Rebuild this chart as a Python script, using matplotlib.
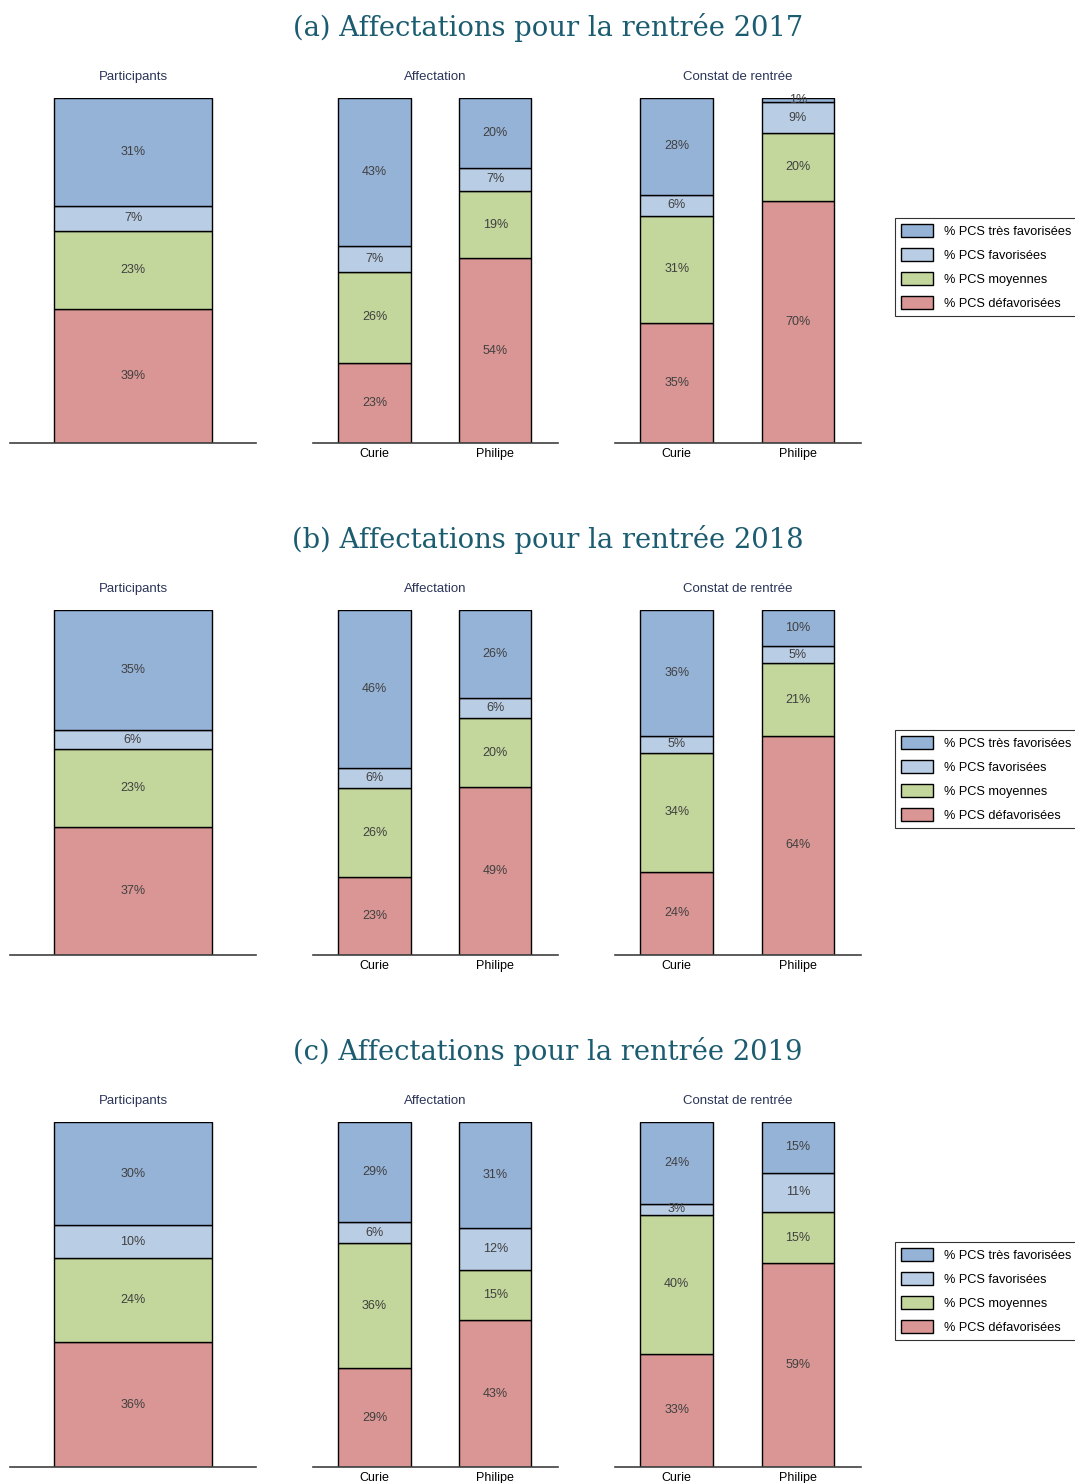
import matplotlib.pyplot as plt
from matplotlib.patches import Patch

plt.rcParams['font.family'] = ['Liberation Sans', 'DejaVu Sans']

# Répartition par catégorie (bas -> haut) : défavorisées, moyennes, favorisées, très favorisées
annees = ['2017', '2018', '2019']
lettres = ['a', 'b', 'c']
categories = ['% PCS très favorisées', '% PCS favorisées', '% PCS moyennes', '% PCS défavorisées']
couleurs = ['#95b3d7', '#b9cde5', '#c3d69b', '#d99694']
panneaux = ['Participants', 'Affectation', 'Constat de rentrée']
colleges = ['Curie', 'Philipe']

# [défav, moyennes, fav, très fav]
participants = {
    '2017': [38.8, 22.7, 7.2, 31.3],
    '2018': [37.1, 22.6, 5.5, 34.8],
    '2019': [36.2, 24.3, 9.6, 29.9],
}
affectation = {
    '2017': {'Curie': [23.2, 26.4, 7.4, 43.0], 'Philipe': [53.6, 19.4, 6.8, 20.2]},
    '2018': {'Curie': [22.6, 25.8, 5.8, 45.8], 'Philipe': [48.6, 20.0, 5.8, 25.6]},
    '2019': {'Curie': [28.6, 36.2, 6.3, 28.9], 'Philipe': [42.6, 14.6, 12.2, 30.6]},
}
constat = {
    '2017': {'Curie': [34.8, 31.0, 6.1, 28.1], 'Philipe': [70.1, 19.7, 9.0, 1.2]},
    '2018': {'Curie': [24.2, 34.4, 5.0, 36.4], 'Philipe': [63.6, 20.9, 5.2, 10.3]},
    '2019': {'Curie': [32.8, 40.3, 3.1, 23.8], 'Philipe': [59.1, 14.8, 11.4, 14.7]},
}

W, H = 1075, 1483
fig = plt.figure(figsize=(W / 100, H / 100), dpi=100)

couleurs_bas_haut = couleurs[::-1]
titre_couleur = '#1b5c70'
sous_titre_couleur = '#2a3558'
texte_couleur = '#404040'


def empiler(ax, xs, series, largeur):
    for x, vals in zip(xs, series):
        bas = 0
        for v, c in zip(vals, couleurs_bas_haut):
            ax.bar(x, v, bottom=bas, width=largeur, color=c, edgecolor='black', linewidth=1)
            ax.text(x, bas + v / 2, f'{v:.0f}%', ha='center', va='center',
                    fontsize=9, color=texte_couleur)
            bas += v


def preparer(ax, titre):
    ax.set_ylim(0, 100)
    for s in ['top', 'left', 'right']:
        ax.spines[s].set_visible(False)
    ax.spines['bottom'].set_color('#404040')
    ax.spines['bottom'].set_linewidth(1.2)
    ax.set_yticks([])
    ax.tick_params(axis='x', length=0, labelsize=9, pad=3.5)
    ax.set_title(titre, fontsize=9.5, color=sous_titre_couleur, pad=13)


def axe(x0, x1, haut, bas):
    return fig.add_axes([x0 / W, 1 - bas / H, (x1 - x0) / W, (bas - haut) / H])


for i, an in enumerate(annees):
    dy = 512 * i
    haut, bas = 98 + dy, 443 + dy

    fig.text(548 / W, 1 - (27 + dy) / H, f'({lettres[i]}) Affectations pour la rentrée {an}',
             ha='center', va='center', fontsize=19.7, family='DejaVu Serif', color=titre_couleur)

    ax = axe(10, 256, haut, bas)
    empiler(ax, [0], [participants[an]], 0.642)
    ax.set_xlim(-0.5, 0.5)
    ax.set_xticks([])
    preparer(ax, panneaux[0])

    for x0, x1, donnees, titre in [(313, 558, affectation, panneaux[1]),
                                   (615, 861, constat, panneaux[2])]:
        ax = axe(x0, x1, haut, bas)
        empiler(ax, [0, 1], [donnees[an][c] for c in colleges], 0.6)
        ax.set_xlim(-0.51, 1.52)
        ax.set_xticks([0, 1], colleges)
        preparer(ax, titre)

    poignees = [Patch(facecolor=c, edgecolor='black', linewidth=1) for c in couleurs]
    leg = fig.legend(poignees, categories, loc='upper left',
                     bbox_to_anchor=(895 / W, 1 - (218 + dy) / H),
                     fontsize=9.2, frameon=True, fancybox=False, edgecolor='black',
                     handlelength=2.5, handleheight=1.2, labelspacing=0.78,
                     borderpad=0.5, handletextpad=0.8, borderaxespad=0)
    leg.get_frame().set_linewidth(0.8)

fig.savefig('out.png', dpi=100)
